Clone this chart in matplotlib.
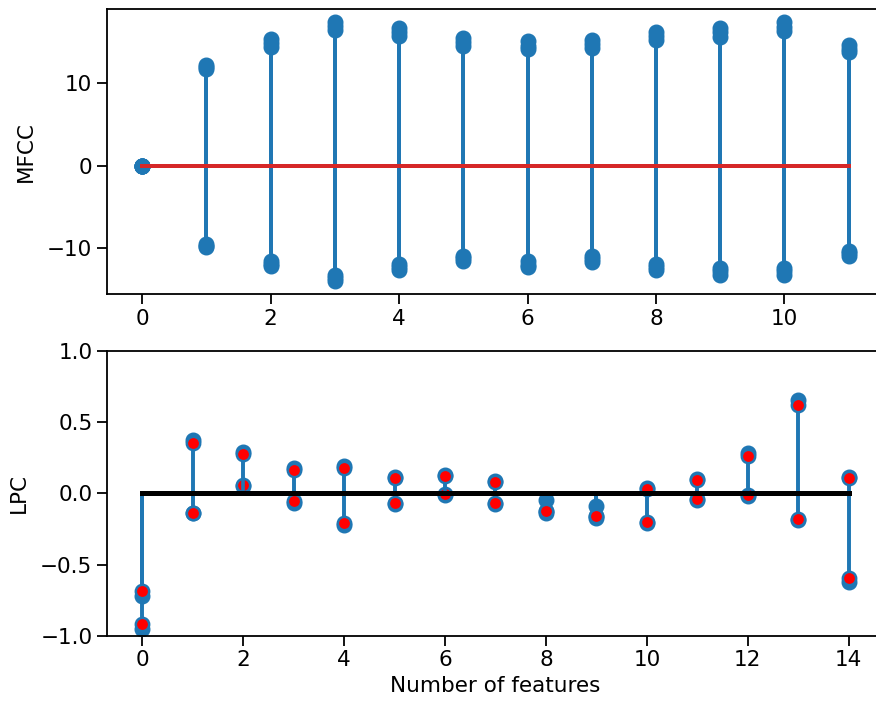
import numpy as np
import matplotlib
matplotlib.use("Agg")
import matplotlib.pyplot as plt

# ---- data ----
mfcc_index = list(range(12))
mfcc_frame1 = [0, 12.3, 15.4, 17.5, 16.7, 15.5, 15.1, 15.3, 16.3, 16.7, 17.4, 14.7]
mfcc_frame2 = [0, 12.0, 14.9, 17.0, 16.2, 15.0, 14.6, 14.8, 15.8, 16.2, 16.9, 14.2]
mfcc_frame3 = [0, 11.7, 14.4, 16.5, 15.8, 14.5, 14.2, 14.3, 15.3, 15.7, 16.4, 13.8]
mfcc_frame4 = [0, -9.5, -11.5, -13.2, -11.9, -10.9, -11.6, -11.0, -11.9, -12.4, -12.4, -10.3]
mfcc_frame5 = [0, -9.7, -11.9, -13.6, -12.3, -11.2, -12.0, -11.3, -12.3, -12.8, -12.8, -10.6]
mfcc_frame6 = [0, -9.9, -12.2, -14.0, -12.7, -11.6, -12.3, -11.7, -12.6, -13.2, -13.2, -11.0]

lpc_index = list(range(15))
lpc_frame1 = [-0.685, 0.355, 0.273, 0.162, 0.179, 0.108, 0.12, 0.08, -0.125, -0.162, 0.033, 0.092, 0.263, 0.62, 0.108]
lpc_frame2 = [-0.916, -0.136, 0.056, -0.056, -0.21, -0.068, -0.007, -0.068, -0.125, -0.162, -0.198, -0.038, -0.014, -0.18, -0.595]
lpc_frame3 = [-0.72, 0.374, 0.29, 0.175, 0.19, 0.115, 0.13, 0.09, -0.05, -0.09, 0.04, 0.10, 0.285, 0.655, 0.115]
lpc_frame4 = [-0.955, -0.14, 0.05, -0.065, -0.22, -0.075, -0.01, -0.075, -0.135, -0.175, -0.205, -0.045, -0.02, -0.19, -0.626]

plt.rcParams.update({
    "font.family": "DejaVu Sans",
    "font.size": 15.5,
    "lines.linewidth": 2.2,
    "axes.linewidth": 1.3,
    "xtick.major.size": 7,
    "ytick.major.size": 7,
    "xtick.major.width": 1.3,
    "ytick.major.width": 1.3,
})

fig = plt.figure(figsize=(8.76, 7.06), dpi=100)
ax1 = fig.add_axes([0.1221, 0.5831, 0.887, 0.4037])
ax2 = fig.add_axes([0.1221, 0.0996, 0.887, 0.4032])

# ---- top: MFCC ----
for frame in (mfcc_frame1, mfcc_frame2, mfcc_frame3, mfcc_frame4, mfcc_frame5, mfcc_frame6):
    m, s, b = ax1.stem(mfcc_index, frame, linefmt="C0-", markerfmt="C0o", basefmt="C3-")
    m.set_markersize(10.5)
    s.set_linewidth(2.6)
    b.set_linewidth(2.8)
    b.set_zorder(4)
ax1.set_xlim(-0.55, 11.55)
ax1.set_ylim(-15.6, 19.0)
ax1.set_yticks([-10, 0, 10])
ax1.set_xticks([0, 2, 4, 6, 8, 10])
ax1.set_ylabel("MFCC", labelpad=8)
ax1.spines["right"].set_visible(False)

# ---- bottom: LPC ----
for frame in (lpc_frame3, lpc_frame4):
    m, s, b = ax2.stem(lpc_index, frame, linefmt="C0-", markerfmt="C0o", basefmt="k-")
    m.set_markersize(10.5)
    s.set_linewidth(2.6)
    b.set_linewidth(3.4)
    b.set_zorder(4)
for frame in (lpc_frame2, lpc_frame1):
    m, s, b = ax2.stem(lpc_index, frame, linefmt="C0-", markerfmt="C0o", basefmt="k-")
    m.set_markersize(9.6)
    m.set_markerfacecolor("red")
    m.set_markeredgecolor("C0")
    m.set_markeredgewidth(1.8)
    s.set_linewidth(2.6)
    b.set_linewidth(3.4)
    b.set_zorder(4)
ax2.set_xlim(-0.7, 14.7)
ax2.set_ylim(-1.0, 1.0)
ax2.set_yticks([-1.0, -0.5, 0.0, 0.5, 1.0])
ax2.set_xticks([0, 2, 4, 6, 8, 10, 12, 14])
ax2.set_ylabel("LPC", labelpad=8)
ax2.set_xlabel("Number of features")
ax2.spines["right"].set_visible(False)

fig.savefig("out.png", dpi=100)
